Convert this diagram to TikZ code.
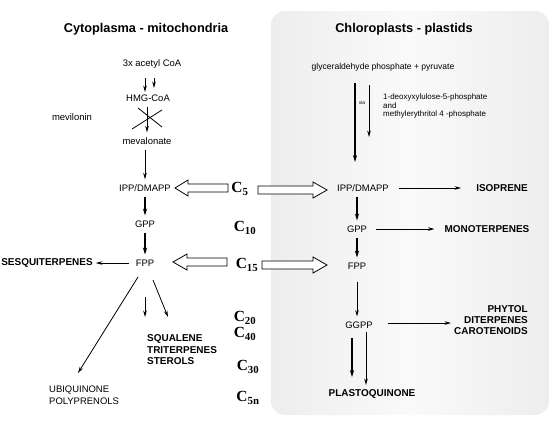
\documentclass[tikz,border=0pt]{standalone}
\usepackage{fontspec}
\setmainfont{Liberation Sans}
\newfontfamily\cserif{Liberation Serif}
\usetikzlibrary{arrows.meta,calc}
\pgfdeclarehorizontalshading{plastidbox}{100bp}{color(0bp)=(black!34); color(3bp)=(black!24); color(15bp)=(black!9); color(50bp)=(black!2); color(85bp)=(black!9); color(97bp)=(black!24); color(100bp)=(black!34)}
\newcommand\myHarrow[4]{% tip x, head base x, tail x, y
  \draw[hollow] (#1,#4) -- (#2,#4-8) -- (#2,#4-4) -- (#3,#4-4) -- (#3,#4+4) -- (#2,#4+4) -- (#2,#4+8) -- cycle;}
\begin{document}
\begin{tikzpicture}[x=1bp,y=-1bp,
  txt/.style={font=\fontsize{9.5}{10}\selectfont, inner xsep=3pt, inner ysep=5pt},
  small/.style={font=\fontsize{8}{9}\selectfont, inner sep=1pt, align=left},
  bld/.style={font=\bfseries\fontsize{10}{11.5}\selectfont, inner sep=1pt},
  ttl/.style={font=\bfseries\fontsize{12.8}{14}\selectfont, inner sep=1pt},
  cl/.style={font=\cserif\bfseries\fontsize{15.5}{16}\selectfont, inner sep=1pt},
  arr/.style={-{Stealth[length=6.5pt,width=3.6pt]}, line width=0.8pt},
  tarr/.style={-{Stealth[length=7pt,width=4.2pt]}, line width=1.5pt},
  hollow/.style={draw=black, line width=0.8pt, fill=white, line join=miter}]
\useasboundingbox (0,0) rectangle (553,420);
% plastid compartment
\shade[rounded corners=14bp, shading=plastidbox] (271,11) rectangle (549,415);
% titles
\node[ttl] (tl) at (146,29) {Cytoplasma - mitochondria};
\node[ttl] (tr) at (404,29) {Chloroplasts - plastids};
% left pathway
\node[txt] (acoa) at (152,64) {3x acetyl CoA};
\node[txt] (hmg) at (148,98) {HMG-CoA};
\node[txt] (mevi) at (72,117) {mevilonin};
\node[txt] (meval) at (147,141) {mevalonate};
\node[txt] (ippL) at (145,188) {IPP/DMAPP};
\node[txt] (gppL) at (145,224) {GPP};
\node[txt] (fppL) at (145,263) {FPP};
\node[bld] (sesq) at (47,263) {SESQUITERPENES};
\node[bld, align=left, anchor=west] (squal) at (146,350) {SQUALENE\\TRITERPENES\\STEROLS};
\node[txt, align=left, anchor=west, font=\fontsize{9.5}{12}\selectfont, inner sep=1pt] (ubi) at (48,395) {UBIQUINONE\\POLYPRENOLS};
% carbon numbers
\node[cl] (c5) at (240,189) {C\textsubscript{5}};
\node[cl] (c10) at (245,228) {C\textsubscript{10}};
\node[cl] (c15) at (247,265) {C\textsubscript{15}};
\node[cl] (c20) at (245,318) {C\textsubscript{20}};
\node[cl] (c40) at (245,334) {C\textsubscript{40}};
\node[cl] (c30) at (248,367) {C\textsubscript{30}};
\node[cl] (c5n) at (248,398) {C\textsubscript{5n}};
% right pathway
\node[txt, font=\fontsize{8.6}{10}\selectfont] (glyc) at (383,67) {glyceraldehyde phosphate + pyruvate};
\node[small, anchor=west, font=\fontsize{8}{8.6}\selectfont] (deoxy) at (382,106) {1-deoxyxylulose-5-phosphate\\and\\methylerythritol 4 -phosphate};
\node[inner sep=0pt, font=\fontsize{5}{5}\selectfont] (via) at (362,103) {via};
\node[txt] (ippR) at (363,188) {IPP/DMAPP};
\node[bld] (iso) at (502,188) {ISOPRENE};
\node[txt] (gppR) at (357,229) {GPP};
\node[bld] (mono) at (487,229) {MONOTERPENES};
\node[txt] (fppR) at (357,266) {FPP};
\node[txt] (ggpp) at (359,325) {GGPP};
\node[bld, align=right, anchor=east, font=\bfseries\fontsize{10}{11}\selectfont] (phyt) at (529,320) {PHYTOL\\DITERPENES\\CAROTENOIDS};
\node[bld] (plasto) at (372,394) {PLASTOQUINONE};
% coordinates for free arrow ends
\coordinate (a1s) at (145,78); \coordinate (a1e) at (145,92);
\coordinate (a2s) at (154,78); \coordinate (a2e) at (154,88);
\coordinate (x1a) at (138,108); \coordinate (x1b) at (162,127);
\coordinate (x2a) at (162,110); \coordinate (x2b) at (132,129);
\coordinate (d1s) at (138,277); \coordinate (d1e) at (78,373);
\coordinate (d2s) at (145,297); \coordinate (d2e) at (145,317);
\coordinate (d3s) at (153,280); \coordinate (d3e) at (168,317);
\coordinate (v1s) at (355,83); \coordinate (v1e) at (355,162);
\coordinate (v2s) at (369,85); \coordinate (v2e) at (369,137);
\coordinate (p1s) at (352,338); \coordinate (p1e) at (352,377);
\coordinate (p2s) at (366,332); \coordinate (p2e) at (366,385);
% left connectors
\draw[arr] (a1s) -- (a1e);
\draw[arr] (a2s) -- (a2e);
\draw[arr] (hmg.south -| meval) -- (meval);
\draw[line width=0.8pt] (x1a) -- (x1b);
\draw[line width=0.8pt] (x2a) -- (x2b);
\draw[arr] (meval.south -| ippL) -- (ippL);
\draw[tarr] (ippL) -- (gppL);
\draw[tarr] (gppL) -- (fppL);
\draw[arr, shorten <=4pt, shorten >=2pt] (fppL) -- (sesq);
\draw[arr] (d1s) -- (d1e);
\draw[arr] (d2s) -- (d2e);
\draw[arr] (d3s) -- (d3e);
% right connectors
\draw[tarr] (v1s) -- (v1e);
\draw[arr] (v2s) -- (v2e);
\draw[arr, shorten <=7pt, shorten >=14pt] (ippR) -- (iso);
\draw[tarr] (ippR.south -| gppR) -- (gppR);
\draw[arr, shorten <=6pt, shorten >=9pt] (gppR) -- (mono);
\draw[tarr] (gppR) -- (fppR);
\draw[arr, shorten <=8pt] (fppR) -- (fppR |- ggpp.north);
\draw[arr, shorten <=12pt, shorten >=2pt] ($(ggpp.east)+(0,-2)$) -- ($(ggpp.east -| phyt.west)+(0,-2)$);
\draw[tarr] (p1s) -- (p1e);
\draw[arr] (p2s) -- (p2e);
% hollow exchange arrows
\myHarrow{175}{188}{228}{188}
\myHarrow{327}{313}{258}{190}
\myHarrow{173}{187}{227}{262}
\myHarrow{327}{313}{262}{265}
\end{tikzpicture}
\end{document}
